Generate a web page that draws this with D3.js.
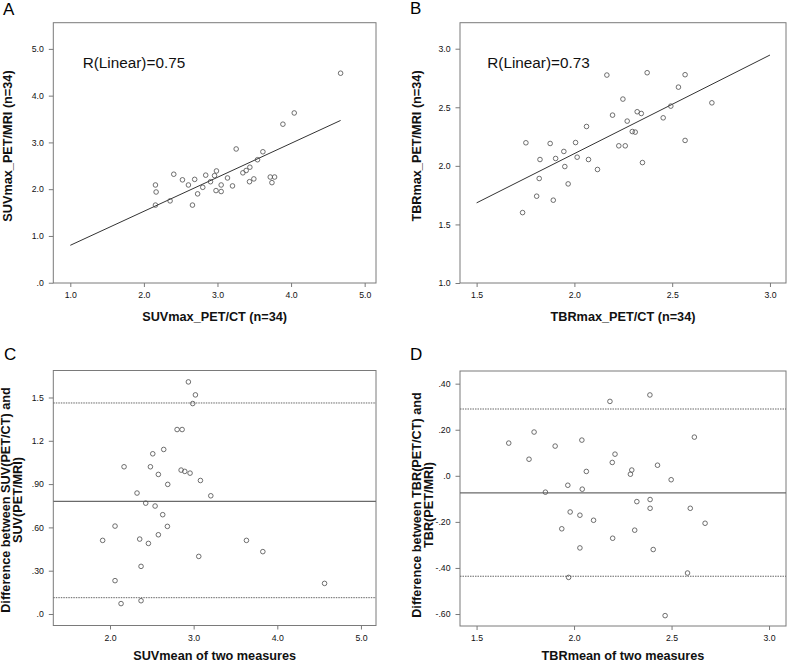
<!DOCTYPE html>
<html>
<head>
<meta charset="utf-8">
<script src="https://cdn.jsdelivr.net/npm/d3@7/dist/d3.min.js"></script>
<style>
  html, body { margin: 0; padding: 0; background: #fff; }
  svg { display: block; }
  text { font-family: "Liberation Sans", Arial, sans-serif; }
</style>
</head>
<body>
<svg id="chart" width="787" height="662"></svg>
<script>
// ---------------- DATA ----------------
const panelLetters = ["A", "B", "C", "D"];

// Panel A: SUVmax PET/CT vs PET/MRI
const aX = [2.157, 2.166, 2.157, 2.356, 2.406, 2.524, 2.605, 2.66, 2.69, 2.73, 2.80, 2.84, 2.905, 2.96, 2.986, 2.98, 3.05,
            3.05, 3.136, 3.204, 3.254, 3.345, 3.39, 3.44, 3.435, 3.494, 3.544, 3.617, 3.717, 3.74, 3.776, 3.889, 4.043, 4.673];
const aY = [2.09, 1.94, 1.66, 1.75, 2.32, 2.20, 2.09, 1.66, 2.21, 1.90, 2.04, 2.30, 2.16, 2.29, 2.39, 1.97, 2.09,
            1.95, 2.24, 2.07, 2.86, 2.35, 2.40, 2.47, 2.16, 2.22, 2.63, 2.80, 2.26, 2.14, 2.26, 3.39, 3.63, 4.48];
const aFitX = [1.0, 4.673];
const aFitY = [0.80, 3.47];
const aR = "R(Linear)=0.75";

// Panel B: TBRmax PET/CT vs PET/MRI
const bX = [1.735, 1.752, 1.807, 1.820, 1.824, 1.876, 1.892, 1.904, 1.946, 1.951, 1.968, 2.006, 2.014, 2.062, 2.072, 2.118, 2.166,
            2.195, 2.227, 2.248, 2.260, 2.270, 2.296, 2.311, 2.321, 2.342, 2.348, 2.372, 2.454, 2.493, 2.532, 2.566, 2.566, 2.703];
const bY = [1.601, 2.197, 1.741, 1.892, 2.054, 2.191, 1.707, 2.063, 2.123, 1.994, 1.846, 2.199, 2.074, 2.336, 2.054, 1.969, 2.775,
            2.433, 2.171, 2.570, 2.171, 2.382, 2.293, 2.288, 2.462, 2.447, 2.028, 2.795, 2.410, 2.510, 2.672, 2.778, 2.217, 2.538];
const bFitX = [1.5, 3.0];
const bFitY = [1.684, 2.946];
const bR = "R(Linear)=0.73";

// Panel C: Bland-Altman SUV
const cX = [1.912, 2.060, 2.060, 2.132, 2.168, 2.323, 2.355, 2.371, 2.371, 2.427, 2.459, 2.483, 2.511, 2.539, 2.578, 2.578, 2.630,
            2.642, 2.690, 2.686, 2.802, 2.850, 2.862, 2.894, 2.937, 2.957, 2.989, 3.021, 3.061, 3.081, 3.205, 3.631, 3.827, 4.565];
const cY = [0.510, 0.609, 0.231, 0.072, 1.020, 0.838, 0.519, 0.330, 0.092, 0.768, 0.489, 1.020, 1.110, 0.748, 0.549, 0.967, 0.688,
            1.140, 0.898, 0.607, 1.278, 0.997, 1.278, 0.988, 1.608, 0.976, 1.458, 1.518, 0.399, 0.925, 0.819, 0.510, 0.432, 0.212];
const cRef = [0.780, 1.462, 0.113]; // mean, upper, lower limits

// Panel D: Bland-Altman TBR
const dX = [1.665, 1.769, 1.795, 1.853, 1.903, 1.937, 1.968, 1.972, 1.980, 2.030, 2.030, 2.040, 2.042, 2.063, 2.100, 2.184, 2.196,
            2.198, 2.210, 2.289, 2.296, 2.311, 2.322, 2.389, 2.390, 2.390, 2.406, 2.428, 2.467, 2.498, 2.582, 2.596, 2.617, 2.672];
const dY = [0.142, 0.072, 0.190, -0.071, 0.129, -0.230, -0.041, -0.441, -0.157, -0.171, -0.313, 0.155, -0.058, 0.019, -0.193, 0.323, 0.058,
            -0.271, 0.094, 0.007, 0.025, -0.236, -0.112, 0.351, -0.103, -0.141, -0.320, 0.046, -0.607, -0.017, -0.422, -0.141, 0.168, -0.206];
const dRef = [-0.074, 0.290, -0.436];

// Axis ticks and labels
const aXTicks = [1, 2, 3, 4, 5],            aXLabels = ["1.0", "2.0", "3.0", "4.0", "5.0"];
const aYTicks = [0, 1, 2, 3, 4, 5],         aYLabels = [".0", "1.0", "2.0", "3.0", "4.0", "5.0"];
const bXTicks = [1.5, 2, 2.5, 3],           bXLabels = ["1.5", "2.0", "2.5", "3.0"];
const bYTicks = [1, 1.5, 2, 2.5, 3],        bYLabels = ["1.0", "1.5", "2.0", "2.5", "3.0"];
const cXTicks = [2, 3, 4, 5],               cXLabels = ["2.0", "3.0", "4.0", "5.0"];
const cYTicks = [0, 0.3, 0.6, 0.9, 1.2, 1.5], cYLabels = [".0", ".30", ".60", ".90", "1.2", "1.5"];
const dXTicks = [1.5, 2, 2.5, 3],           dXLabels = ["1.5", "2.0", "2.5", "3.0"];
const dYTicks = [-0.6, -0.4, -0.2, 0, 0.2, 0.4], dYLabels = ["-.60", "-.40", "-.20", ".0", ".20", ".40"];

// Axis titles
const xTitles = ["SUVmax_PET/CT (n=34)", "TBRmax_PET/CT (n=34)", "SUVmean of two measures", "TBRmean of two measures"];
const yTitles = [["SUVmax_PET/MRI (n=34)"], ["TBRmax_PET/MRI (n=34)"],
                 ["Difference between SUV(PET/CT) and", "SUV(PET/MRI)"],
                 ["Difference between TBR(PET/CT) and", "TBR(PET/MRI)"]];

// ---------------- LAYOUT ----------------
const svg = d3.select("#chart");

const panels = [
  { letter: panelLetters[0], lx: 3,   ly: 15,  box: [53.3, 22.7, 376, 283], xd: [0.769, 5.154], yd: [-0.006, 5.56],
    xs: aX, ys: aY, xt: aXTicks, xl: aXLabels, yt: aYTicks, yl: aYLabels, fit: [aFitX, aFitY], r: aR, rpos: [82.7, 68],
    xTitle: xTitles[0], yTitle: yTitles[0], xty: 320.5, ytx: 11.5, yty: 146 },
  { letter: panelLetters[1], lx: 410, ly: 14,  box: [460, 22.7, 786, 283], xd: [1.415, 3.082], yd: [1.0, 3.222],
    xs: bX, ys: bY, xt: bXTicks, xl: bXLabels, yt: bYTicks, yl: bYLabels, fit: [bFitX, bFitY], r: bR, rpos: [487.3, 68],
    xTitle: xTitles[1], yTitle: yTitles[1], xty: 320.5, ytx: 420.5, yty: 146 },
  { letter: panelLetters[2], lx: 4,   ly: 360, box: [53.3, 370.5, 376, 625.5], xd: [1.322, 5.18], yd: [-0.0797, 1.687],
    xs: cX, ys: cY, xt: cXTicks, xl: cXLabels, yt: cYTicks, yl: cYLabels, ref: cRef,
    xTitle: xTitles[2], yTitle: yTitles[2], xty: 660, ytx: 10, yty: 500 },
  { letter: panelLetters[3], lx: 410, ly: 360, box: [460, 371, 786, 626], xd: [1.415, 3.087], yd: [-0.652, 0.455],
    xs: dX, ys: dY, xt: dXTicks, xl: dXLabels, yt: dYTicks, yl: dYLabels, ref: dRef,
    xTitle: xTitles[3], yTitle: yTitles[3], xty: 660, ytx: 420.5, yty: 505 }
];

const frameColor = "#7a7a7a";

panels.forEach(p => {
  const [x0, y0, x1, y1] = p.box;
  const x = d3.scaleLinear().domain(p.xd).range([x0, x1]);
  const y = d3.scaleLinear().domain(p.yd).range([y1, y0]);
  const g = svg.append("g");

  // panel letter
  g.append("text").attr("x", p.lx).attr("y", p.ly)
    .attr("font-size", 17).attr("fill", "#000").text(p.letter);

  // frame
  g.append("rect").attr("x", x0).attr("y", y0).attr("width", x1 - x0).attr("height", y1 - y0)
    .attr("fill", "none").attr("stroke", frameColor).attr("stroke-width", 1);

  // axes
  const xa = d3.axisBottom(x).tickValues(p.xt).tickFormat((d, i) => p.xl[i]).tickSize(4).tickPadding(5).tickSizeOuter(0);
  const ya = d3.axisLeft(y).tickValues(p.yt).tickFormat((d, i) => p.yl[i]).tickSize(4.5).tickPadding(5).tickSizeOuter(0);
  const gx = g.append("g").attr("transform", `translate(0,${y1})`).call(xa);
  const gy = g.append("g").attr("transform", `translate(${x0},0)`).call(ya);
  [gx, gy].forEach(ax => {
    ax.select(".domain").remove();
    ax.selectAll(".tick line").attr("stroke", frameColor);
    ax.selectAll(".tick text").attr("font-size", 8.7).attr("fill", "#111")
      .attr("font-family", '"Liberation Sans", Arial, sans-serif');
  });

  // reference lines (Bland-Altman)
  if (p.ref) {
    const [mean, up, lo] = p.ref;
    g.append("line").attr("x1", x0).attr("x2", x1).attr("y1", y(mean)).attr("y2", y(mean))
      .attr("stroke", "#6a6a6a").attr("stroke-width", 1.3);
    [up, lo].forEach(v => {
      g.append("line").attr("x1", x0).attr("x2", x1).attr("y1", y(v)).attr("y2", y(v))
        .attr("stroke", "#666").attr("stroke-width", 1).attr("stroke-dasharray", "1.5,1");
    });
  }

  // regression line
  if (p.fit) {
    const [fx, fy] = p.fit;
    g.append("line").attr("x1", x(fx[0])).attr("y1", y(fy[0])).attr("x2", x(fx[1])).attr("y2", y(fy[1]))
      .attr("stroke", "#333").attr("stroke-width", 1);
    g.append("text").attr("x", p.rpos[0]).attr("y", p.rpos[1]).attr("font-size", 15.3)
      .attr("fill", "#111").text(p.r);
  }

  // points
  g.append("g").selectAll("circle").data(p.xs.map((v, i) => [v, p.ys[i]])).join("circle")
    .attr("cx", d => x(d[0])).attr("cy", d => y(d[1])).attr("r", 2.3)
    .attr("fill", "none").attr("stroke", "#555").attr("stroke-width", 0.85);

  // x title
  g.append("text").attr("x", (x0 + x1) / 2).attr("y", p.xty).attr("text-anchor", "middle")
    .attr("font-size", 12.7).attr("font-weight", "bold").attr("fill", "#111").text(p.xTitle);

  // y title
  p.yTitle.forEach((t, i) => {
    g.append("text")
      .attr("transform", `translate(${p.ytx + i * 12},${p.yty}) rotate(-90)`)
      .attr("text-anchor", "middle").attr("font-size", 12.7).attr("font-weight", "bold")
      .attr("fill", "#111").text(t);
  });
});
</script>
</body>
</html>
